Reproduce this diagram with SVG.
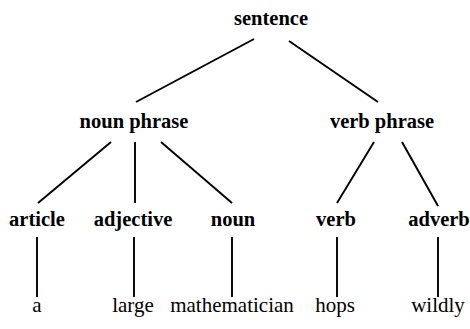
<svg xmlns="http://www.w3.org/2000/svg" width="470" height="329" viewBox="0 0 470 329">
<defs>
<style>
.e line{stroke:#000;stroke-width:1.9;fill:none}
</style>
</defs>
<rect width="470" height="329" fill="#fff"/>
<g class="e" id="connectors">
<line x1="254" y1="39" x2="136" y2="102"/>
<line x1="289" y1="41" x2="378" y2="102"/>
<line x1="111" y1="142" x2="38" y2="203"/>
<line x1="135" y1="142" x2="135" y2="203"/>
<line x1="161" y1="142" x2="232" y2="203"/>
<line x1="374" y1="142" x2="337" y2="203"/>
<line x1="402" y1="142" x2="438" y2="206"/>
<line x1="37" y1="237" x2="37" y2="297"/>
<line x1="134" y1="237" x2="134" y2="297"/>
<line x1="232" y1="237" x2="232" y2="297"/>
<line x1="337" y1="237" x2="337" y2="297"/>
<line x1="438" y1="237" x2="438" y2="297"/>
</g>
<g font-family="Liberation Serif, serif" font-weight="bold" font-size="20.5" text-anchor="middle" fill="#000">
<g id="sentence"><text x="271" y="25">sentence</text></g>
<g id="noun-phrase"><text x="134" y="128">noun phrase</text></g>
<g id="verb-phrase"><text x="382" y="128">verb phrase</text></g>
<g id="article"><text x="37" y="226">article</text></g>
<g id="adjective"><text x="133" y="226">adjective</text></g>
<g id="noun"><text x="233" y="226">noun</text></g>
<g id="verb"><text x="336" y="226">verb</text></g>
<g id="adverb"><text x="439" y="226">adverb</text></g>
</g>
<g font-family="Liberation Serif, serif" font-size="21" text-anchor="middle" fill="#000">
<g id="w-a"><text x="37" y="312">a</text></g>
<g id="w-large"><text x="133" y="312">large</text></g>
<g id="w-mathematician"><text x="232" y="312">mathematician</text></g>
<g id="w-hops"><text x="335" y="312">hops</text></g>
<g id="w-wildly"><text x="438" y="312">wildly</text></g>
</g>
</svg>
